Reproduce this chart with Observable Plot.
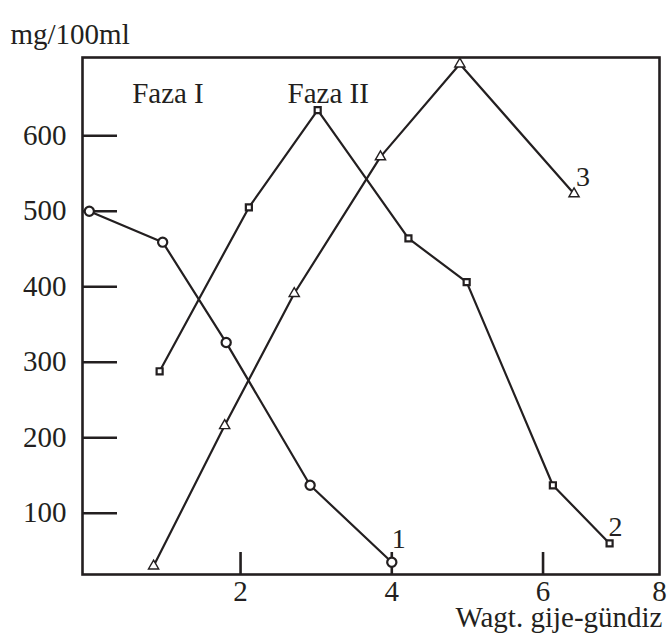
<!DOCTYPE html>
<html><head><meta charset="utf-8">
<script src="https://cdn.jsdelivr.net/npm/d3@7"></script>
<script src="https://cdn.jsdelivr.net/npm/@observablehq/plot@0.6"></script>
<style>body{margin:0;background:#fff}</style>
</head><body><div id="chart"></div>
<script>
// Series 1 (circles)
const s1Days = [0, 0.97, 1.81, 2.92, 4.0];
const s1Vals = [500, 459, 326, 137, 35];
// Series 2 (squares)
const s2Days = [0.93, 2.11, 3.02, 4.22, 4.99, 6.13, 6.88];
const s2Vals = [288, 505, 634, 464, 406, 137, 60];
// Series 3 (triangles)
const s3Days = [0.85, 1.79, 2.71, 3.85, 4.9, 6.41];
const s3Vals = [30, 216, 391, 572, 695, 523];

const seriesNames = ["1", "2", "3"];
const yTicks = [100, 200, 300, 400, 500, 600];
const xTicks = [2, 4, 6];
const xEndLabel = "8"; // label printed at the right end of the axis
const phaseLabels = ["Faza I", "Faza II"];
const phaseDays = [1.04, 3.16];
const yTitle = "mg/100ml";
const xTitle = "Wagt. gije-gündiz";

const xDomain = [-0.09, 7.54];
const yDomain = [18.8, 703.6];

const ink = "#231f20";
const font = "'Liberation Serif', 'Times New Roman', serif";
const fs = 29;

const seriesData = [
  {days: s1Days, vals: s1Vals, symbol: "circle", r: 4.6, sw: 2.2, dx: 7, dy: -23},
  {days: s2Days, vals: s2Vals, symbol: "square", r: 3.4, sw: 2.2, dx: 6, dy: -16},
  {days: s3Days, vals: s3Vals, symbol: "triangle", r: 3.8, sw: 1.4, dx: 9, dy: -17}
].map((s, i) => ({...s, name: seriesNames[i],
  rows: s.days.map((d, j) => ({day: d, val: s.vals[j]}))}));

const axisLabelTicks = [...xTicks, xDomain[1]];
const axisLabelText = [...xTicks.map(String), xEndLabel];

const marks = [
  Plot.frame({stroke: ink, strokeWidth: 2.6}),
  Plot.tickY(yTicks, {y: d => d, stroke: ink, strokeWidth: 2.6, insetRight: 542}),
  Plot.tickX(xTicks, {x: d => d, stroke: ink, strokeWidth: 2.6, insetTop: 495}),
  Plot.axisY(yTicks, {tickSize: 0, tickPadding: 16, fontSize: fs, label: null, fill: ink}),
  Plot.axisX(axisLabelTicks, {tickSize: 0, tickPadding: 6, fontSize: fs, label: null, fill: ink,
    tickFormat: (d, i) => axisLabelText[i]}),
  Plot.text([yTitle], {text: d => d, frameAnchor: "top-left", dx: -72, dy: -14, textAnchor: "start", lineAnchor: "bottom", fontSize: fs, fill: ink}),
  Plot.text([xTitle], {text: d => d, frameAnchor: "bottom-right", dx: 3, dy: 52, textAnchor: "end", lineAnchor: "bottom", fontSize: fs, fill: ink}),
  Plot.text(phaseLabels, {text: d => d, x: (d, i) => phaseDays[i], frameAnchor: "top", dy: 45, lineAnchor: "bottom", fontSize: fs, fill: ink})
];

for (const s of seriesData) {
  marks.push(Plot.line(s.rows, {x: "day", y: "val", stroke: ink, strokeWidth: 2.2}));
}
for (const s of seriesData) {
  marks.push(Plot.dot(s.rows, {x: "day", y: "val", symbol: () => s.symbol, r: s.r, fill: "white", stroke: ink, strokeWidth: s.sw}));
  marks.push(Plot.text([s.rows[s.rows.length - 1]], {x: "day", y: "val", text: () => s.name, dx: s.dx, dy: s.dy, fontSize: 28, fill: ink}));
}

const plot = Plot.plot({
  width: 670, height: 638,
  marginLeft: 82, marginRight: 11, marginTop: 57, marginBottom: 64,
  style: {fontFamily: font, fontSize: "29px", color: ink, background: "#fff"},
  x: {domain: xDomain},
  y: {domain: yDomain},
  symbol: {type: "identity"},
  marks
});
document.getElementById("chart").appendChild(plot);
</script>
</body></html>
